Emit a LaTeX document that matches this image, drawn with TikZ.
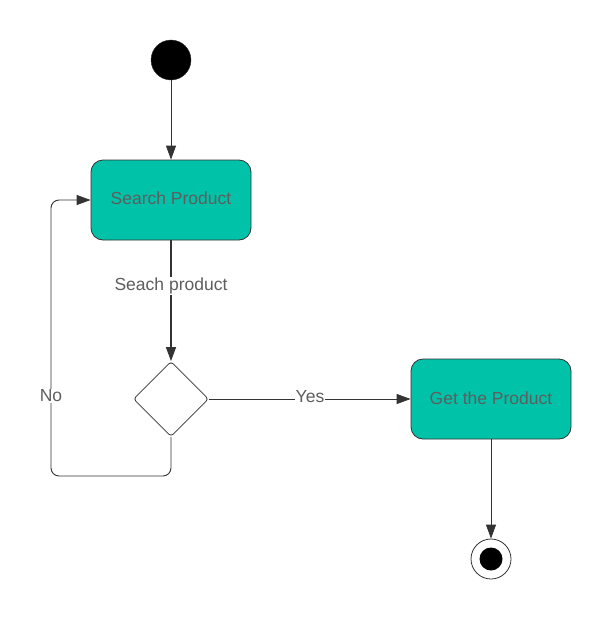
\documentclass[tikz,border=0pt]{standalone}
\usepackage{fontspec}
\setmainfont{Liberation Sans}
\usetikzlibrary{arrows.meta,shapes.geometric}
\definecolor{teal1}{HTML}{00C2A8}
\definecolor{txt}{HTML}{5E5E5E}
\definecolor{ln}{HTML}{333333}
\tikzset{
  act/.style={draw=ln, line width=0.8pt, fill=teal1, rounded corners=12pt, minimum width=160pt, minimum height=80pt, text=txt, font=\fontsize{17.5}{20}\selectfont},
  conn/.style={draw=ln, line width=0.9pt, -{Triangle[length=14pt,width=10pt]}},
  lbl/.style={fill=white, text=txt, inner sep=1pt, font=\fontsize{17.5}{20}\selectfont},
  dec/.style={draw=ln, line width=0.8pt, fill=white, diamond, rounded corners=3pt, minimum width=75pt, minimum height=75pt, inner sep=0pt, aspect=1}
}
\begin{document}
\begin{tikzpicture}[x=1pt,y=-1pt]
\useasboundingbox[fill=white] (0,0) rectangle (612,619);
\node[circle, fill=black, draw=ln, minimum size=40pt, inner sep=0pt] (start) at (171,60) {};
\node[act] (search) at (171,200) {\raisebox{3pt}{Search Product}};
\node[dec] (d) at (171,399) {};
\node[act] (get) at (491,399) {\raisebox{2pt}{Get the Product}};
\node[circle, draw=ln, line width=0.8pt, fill=white, minimum size=40pt, inner sep=0pt] (end) at (491,559) {};
\node[circle, fill=black, minimum size=23pt, inner sep=0pt] (endin) at (491,559) {};
\coordinate (nl) at (51,476);
\draw[conn] (start) -- (search);
\draw[conn, line width=1.4pt] (search) -- (d.north);
\draw[conn] (d.east) -- (get.west);
\draw[conn] (get) -- (end);
\draw[conn, rounded corners=8pt] (d.south) |- (nl) |- (search.west);
\node[lbl] (sp) at (171,286) {Seach product};
\node[lbl] (yes) at (310,397) {Yes};
\node[lbl] (no) at (51,396) {No};
\end{tikzpicture}
\end{document}
